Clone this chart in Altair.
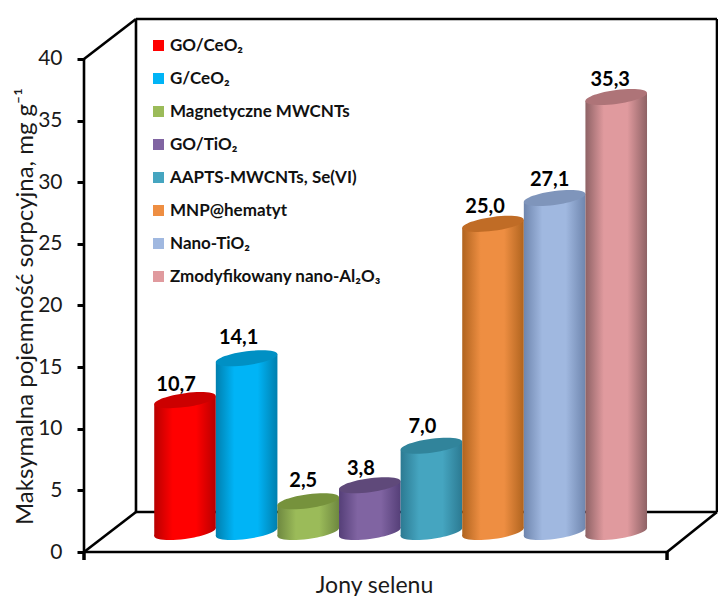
import altair as alt
import pandas as pd

# ---- values ----
categories = ["GO/CeO₂", "G/CeO₂", "Magnetyczne MWCNTs", "GO/TiO₂",
              "AAPTS-MWCNTs, Se(VI)", "MNP@hematyt", "Nano-TiO₂", "Zmodyfikowany nano-Al₂O₃"]
values = [10.7, 14.1, 2.5, 3.8, 7.0, 25.0, 27.1, 35.3]
value_labels = ["10,7", "14,1", "2,5", "3,8", "7,0", "25,0", "27,1", "35,3"]
y_ticks = [0, 5, 10, 15, 20, 25, 30, 35, 40]

# ---- styling ----
mid_colors = ["#FF0000", "#00B4F6", "#9BBB59", "#8064A2", "#45A5C0", "#EE8E42", "#A0B8E0", "#E09A9E"]
edge_colors = ["#B80000", "#007FAE", "#6E8840", "#553F78", "#2C7A92", "#B0641F", "#6F86AE", "#8E6265"]
top_colors = ["#CC0000", "#0090C4", "#76923C", "#5F497A", "#31849B", "#C06C26", "#7F95BB", "#AE7478"]
label_dx = [-9, -8, -5, -9, -9, -8, -5, -6]
label_dy = [-9, -14, -14, -10, -13, -11, -12, -11]
FONT = "Lato"
BASE = 1.62      # depth offset of the cylinders' base above the front floor
TILT = 0.325     # rise of the ellipse ends, in value units
HALF = 0.5       # half a cylinder, in category units
DEPTH_X, DEPTH_Y = 0.844, 3.245
FRONT_END = 7.825
X_LEFT = -1.64
PLOT_W = 633
X_RIGHT = X_LEFT + PLOT_W / 61.6
Y_TOP = 40 + DEPTH_Y


def ellipse_path(b=0.226, shear=-0.13):
    """Sheared unit ellipse from four cubic segments: vertical tangents at both ends."""
    k = 0.5523
    p = lambda x, y: f"{x:.4f},{y * b + x * shear:.4f}"
    return (f"M{p(-1, 0)} "
            f"C{p(-1, -k)} {p(-k, -1)} {p(0, -1)} "
            f"C{p(k, -1)} {p(1, -k)} {p(1, 0)} "
            f"C{p(1, k)} {p(k, 1)} {p(0, 1)} "
            f"C{p(-k, 1)} {p(-1, k)} {p(-1, 0)} Z")


ELLIPSE = ellipse_path()
ELLIPSE_SIZE = 3795

x_scale = alt.Scale(domain=[X_LEFT, X_RIGHT], nice=False, zero=False)
y_scale = alt.Scale(domain=[0, Y_TOP], nice=False, zero=False)
x_axis = alt.Axis(
    title="Jony selenu", labels=False, ticks=False, domain=False, grid=False,
    titleFont=FONT, titleFontSize=23, titleFontWeight="normal", titleColor="#1a1a1a",
    titleX=290, titleY=40, titleAlign="center", titleBaseline="alphabetic")
y_axis = alt.Axis(
    title="Maksymalna pojemność sorpcyjna, mg g⁻¹", values=y_ticks, grid=False, domain=False,
    tickSize=7, tickWidth=3, tickColor="black", labelPadding=15,
    labelFont=FONT, labelFontSize=21, labelColor="#1a1a1a",
    titleFont=FONT, titleFontSize=24, titleFontWeight="normal", titleColor="#1a1a1a",
    titleX=-52, titleY=287, titleAlign="center", titleBaseline="alphabetic")


def X(field):
    return alt.X(field, type="quantitative", scale=x_scale, axis=x_axis)


def Y(field):
    return alt.Y(field, type="quantitative", scale=y_scale, axis=y_axis)


bx = X_LEFT + DEPTH_X
frame = pd.DataFrame([
    dict(x=X_LEFT, x2=X_LEFT, y=0, y2=40),
    dict(x=X_LEFT, x2=FRONT_END, y=0, y2=0),
    dict(x=X_LEFT, x2=bx, y=0, y2=DEPTH_Y),
    dict(x=X_LEFT, x2=bx, y=40, y2=Y_TOP),
    dict(x=bx, x2=bx, y=DEPTH_Y, y2=Y_TOP),
    dict(x=bx, x2=X_RIGHT, y=Y_TOP, y2=Y_TOP),
    dict(x=X_RIGHT, x2=X_RIGHT, y=DEPTH_Y, y2=Y_TOP),
    dict(x=bx, x2=X_RIGHT, y=DEPTH_Y, y2=DEPTH_Y),
    dict(x=FRONT_END, x2=X_RIGHT, y=0, y2=DEPTH_Y),
])
end_ticks = pd.DataFrame([
    dict(x=X_LEFT, x2=X_LEFT, y=0, y2=-0.65),
    dict(x=FRONT_END, x2=FRONT_END, y=0, y2=-0.65),
])

layers = []
layers.append(alt.Chart(frame).mark_rule(color="black", strokeWidth=2.6).encode(
    x=X("x"), x2="x2:Q", y=Y("y"), y2="y2:Q"))
layers.append(alt.Chart(end_ticks).mark_rule(color="black", strokeWidth=3.5).encode(
    x=X("x"), x2="x2:Q", y=Y("y"), y2="y2:Q"))

# zero-size layer that only carries the colour legend
legend_df = pd.DataFrame({"name": categories, "pos": list(range(8))})
layers.append(alt.Chart(legend_df).mark_rect().encode(
    x=X("pos"), x2="pos:Q",
    y=alt.value(0), y2=alt.value(0),
    color=alt.Color("name:N", sort=categories,
                    scale=alt.Scale(domain=categories, range=mid_colors),
                    legend=alt.Legend(
                        title=None, orient="none", legendX=66, legendY=18,
                        symbolType="square", symbolSize=121, symbolStrokeWidth=0,
                        rowPadding=15, labelFont=FONT, labelFontSize=17,
                        labelFontWeight="bold", labelColor="#111111", labelOffset=3,
                        labelLimit=300)),
))

for i, v in enumerate(values):
    grad = alt.Gradient(gradient="linear", x1=0, x2=1, y1=0, y2=0, stops=[
        alt.GradientStop(color=edge_colors[i], offset=0),
        alt.GradientStop(color=mid_colors[i], offset=0.3),
        alt.GradientStop(color=mid_colors[i], offset=0.68),
        alt.GradientStop(color=edge_colors[i], offset=1),
    ])
    top = v + BASE
    one = pd.DataFrame({"x": [i], "base": [BASE], "top": [top], "label": [value_labels[i]]})
    body = pd.DataFrame({
        "x": [i - HALF, i + HALF],
        "t": [top - TILT, top + TILT],
        "b": [BASE - TILT, BASE + TILT],
    })
    layers.append(alt.Chart(one).mark_point(
        shape=ELLIPSE, size=ELLIPSE_SIZE, filled=True, fill=grad, opacity=1
    ).encode(x=X("x"), y=Y("base")))
    layers.append(alt.Chart(body).mark_area(fill=grad, opacity=1).encode(
        x=X("x"), y=Y("t"), y2="b:Q"))
    layers.append(alt.Chart(one).mark_point(
        shape=ELLIPSE, size=ELLIPSE_SIZE, filled=True, fill=top_colors[i], opacity=1
    ).encode(x=X("x"), y=Y("top")))
    layers.append(alt.Chart(one).mark_text(
        font=FONT, fontSize=20, fontWeight="bold", color="black", baseline="alphabetic",
        dx=label_dx[i], dy=label_dy[i]
    ).encode(x=X("x"), y=Y("top"), text="label:N"))

chart = alt.layer(*layers).properties(
    width=PLOT_W, height=533,
    autosize=alt.AutoSizeParams(type="none"),
    padding={"left": 76, "top": 11, "right": 1, "bottom": 44},
).configure_view(stroke=None)

chart.save("out.html", embed_options={"renderer": "svg", "actions": False})
